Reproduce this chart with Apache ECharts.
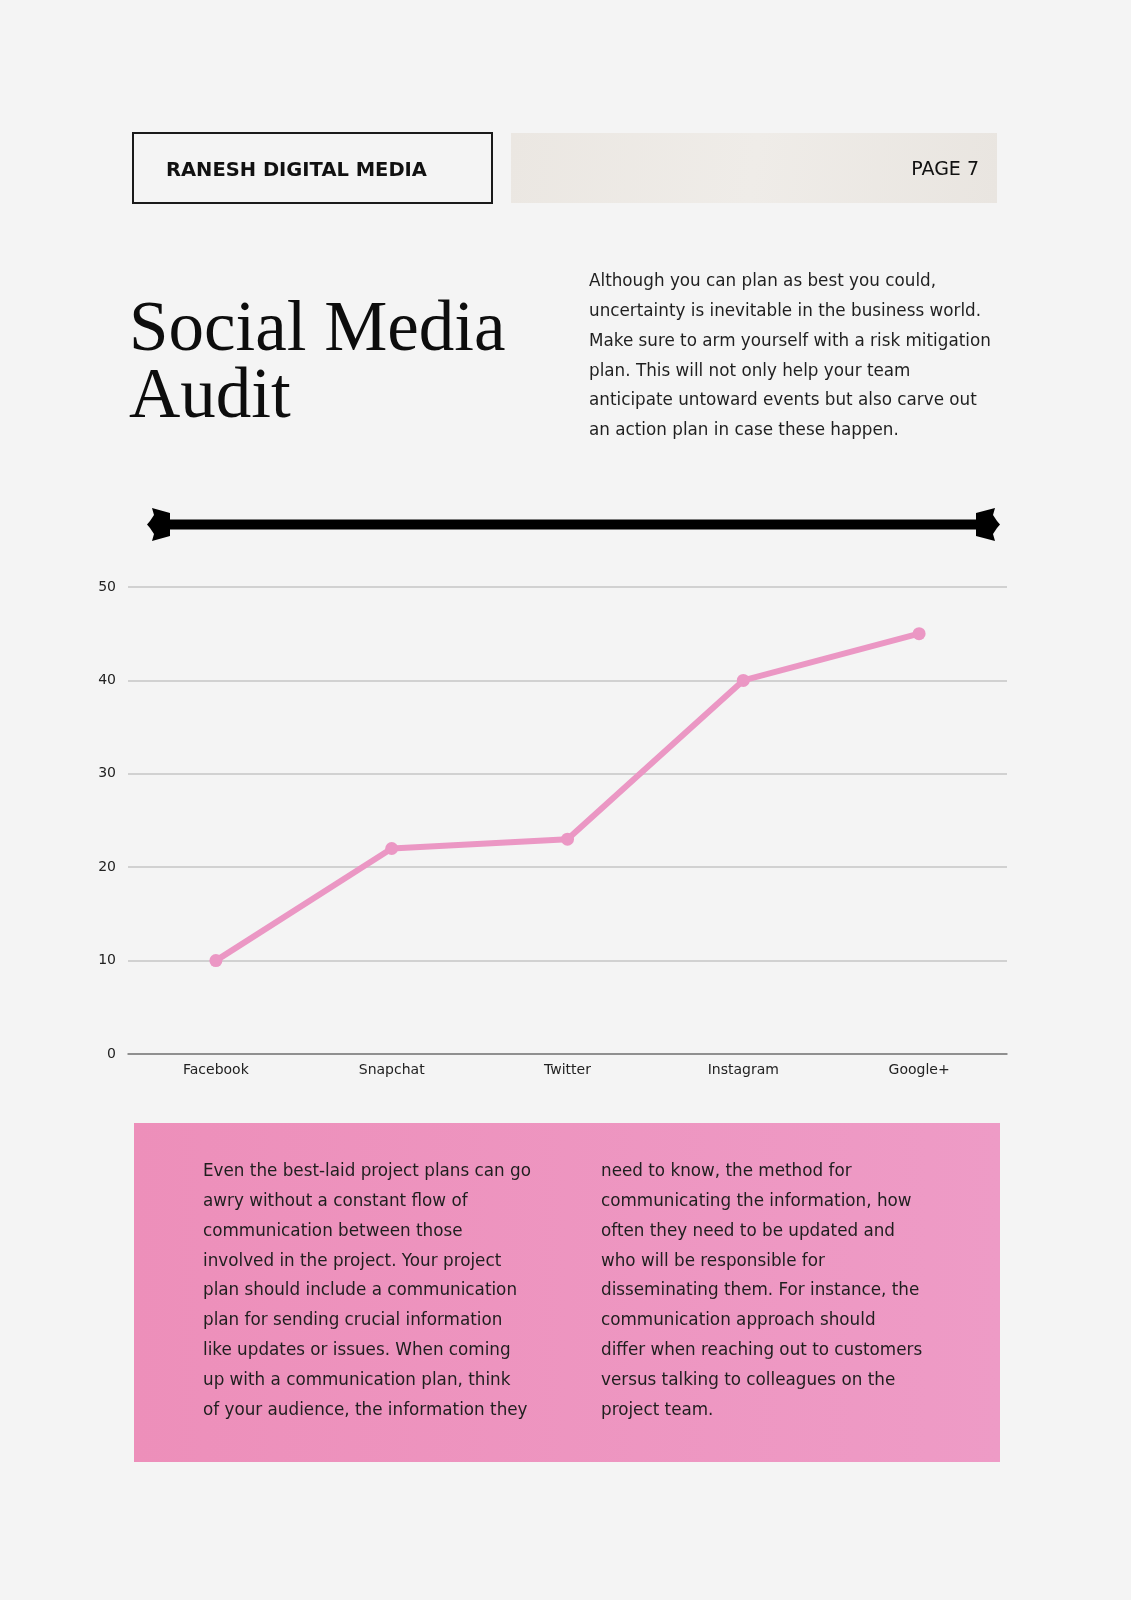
<!DOCTYPE html>
<html>
<head>
<meta charset="utf-8">
<script src="https://cdn.jsdelivr.net/npm/echarts@6/dist/echarts.min.js"></script>
<style>
  html, body { margin: 0; padding: 0; background: #f4f4f4; }
  #page { width: 1131px; height: 1600px; }
</style>
</head>
<body>
<div id="page"></div>
<script>
// chart data
const platforms = ["Facebook", "Snapchat", "Twitter", "Instagram", "Google+"];
const audience = [10, 22, 23, 40, 45];
const yTicks = [0, 10, 20, 30, 40, 50];

const introLines = [
    "Although you can plan as best you could,",
    "uncertainty is inevitable in the business world.",
    "Make sure to arm yourself with a risk mitigation",
    "plan. This will not only help your team",
    "anticipate untoward events but also carve out",
    "an action plan in case these happen."
];
const leftLines = [
    "Even the best-laid project plans can go",
    "awry without a constant flow of",
    "communication between those",
    "involved in the project. Your project",
    "plan should include a communication",
    "plan for sending crucial information",
    "like updates or issues. When coming",
    "up with a communication plan, think",
    "of your audience, the information they"
];
const rightLines = [
    "need to know, the method for",
    "communicating the information, how",
    "often they need to be updated and",
    "who will be responsible for",
    "disseminating them. For instance, the",
    "communication approach should",
    "differ when reaching out to customers",
    "versus talking to colleagues on the",
    "project team."
];

const SANS = "'DejaVu Sans', 'Noto Sans', sans-serif";
const SERIF = "'Liberation Serif', 'DejaVu Serif', serif";

const chart = echarts.init(document.getElementById("page"), null, { renderer: "canvas" });

// text blocks drawn as graphic elements
const textLines = (lines, x, y0, step, size) =>
    lines.map((t, i) => ({
        type: "text",
        left: x,
        top: y0 + i * step,
        style: { text: t, font: `${size}px ${SANS}`, fill: "#1f1f1f" }
    }));

const ornament = [
    { type: "rect", shape: { x: 167, y: 519.5, width: 810, height: 10 }, style: { fill: "#000" } },
    {
        type: "polygon",
        shape: { points: [[152, 508], [170, 513], [170, 536], [152, 541], [154, 534], [150, 528], [147, 524.5], [150, 521], [154, 515]] },
        style: { fill: "#000" }
    },
    {
        type: "polygon",
        shape: { points: [[995, 508], [976, 513], [976, 536], [995, 541], [993, 534], [997, 528], [1000, 524.5], [997, 521], [993, 515]] },
        style: { fill: "#000" }
    }
];

const graphics = [
    // header
    { type: "rect", shape: { x: 133, y: 133, width: 359, height: 70 }, style: { fill: "none", stroke: "#1a1a1a", lineWidth: 2 } },
    {
        type: "rect", shape: { x: 511, y: 133, width: 486, height: 70 },
        style: {
            fill: new echarts.graphic.LinearGradient(0, 0, 1, 1, [
                { offset: 0, color: "#ebe7e2" },
                { offset: 0.5, color: "#efece8" },
                { offset: 1, color: "#e9e5e0" }
            ])
        }
    },
    { type: "text", left: 166, top: 161, style: { text: "RANESH DIGITAL MEDIA", font: `bold 19.5px ${SANS}`, fill: "#111" } },
    { type: "text", right: 1131 - 979, top: 161, style: { text: "PAGE 7", font: `19px ${SANS}`, fill: "#111" } },
    // title
    { type: "text", left: 129, top: 296, style: { text: "Social Media", font: `71px ${SERIF}`, fill: "#0d0d0d" } },
    { type: "text", left: 129, top: 363, style: { text: "Audit", font: `71px ${SERIF}`, fill: "#0d0d0d" } },
    ...textLines(introLines, 589, 273, 29.9, 16.8),
    ...ornament,
    // pink box
    {
        type: "rect", z: -1, shape: { x: 134, y: 1123, width: 866, height: 339 },
        style: {
            fill: new echarts.graphic.LinearGradient(0, 0, 1, 0, [
                { offset: 0, color: "#ed8fba" },
                { offset: 1, color: "#ee9bc6" }
            ])
        }
    },
    ...textLines(leftLines, 203, 1163, 29.9, 16.8),
    ...textLines(rightLines, 601, 1163, 29.9, 16.8)
];

chart.setOption({
    backgroundColor: "#f4f4f4",
    animation: false,
    grid: { left: 128, right: 124, top: 587, bottom: 546 },
    xAxis: {
        type: "category",
        data: platforms,
        boundaryGap: true,
        axisLine: { lineStyle: { color: "#7a7a7a", width: 1.5 } },
        axisTick: { show: false },
        axisLabel: { color: "#222", fontFamily: SANS, fontSize: 14, margin: 9 }
    },
    yAxis: {
        type: "value",
        min: yTicks[0],
        max: yTicks[yTicks.length - 1],
        interval: 10,
        axisLine: { show: false },
        axisTick: { show: false },
        axisLabel: { color: "#222", fontFamily: SANS, fontSize: 14, margin: 12 },
        splitLine: { lineStyle: { color: "#c6c6c6", width: 1.5 } }
    },
    series: [
        {
            type: "line",
            data: audience,
            symbol: "circle",
            symbolSize: 13,
            lineStyle: { color: "#eb97c4", width: 6 },
            itemStyle: { color: "#eb97c4" }
        }
    ],
    graphic: graphics
});
</script>
</body>
</html>
